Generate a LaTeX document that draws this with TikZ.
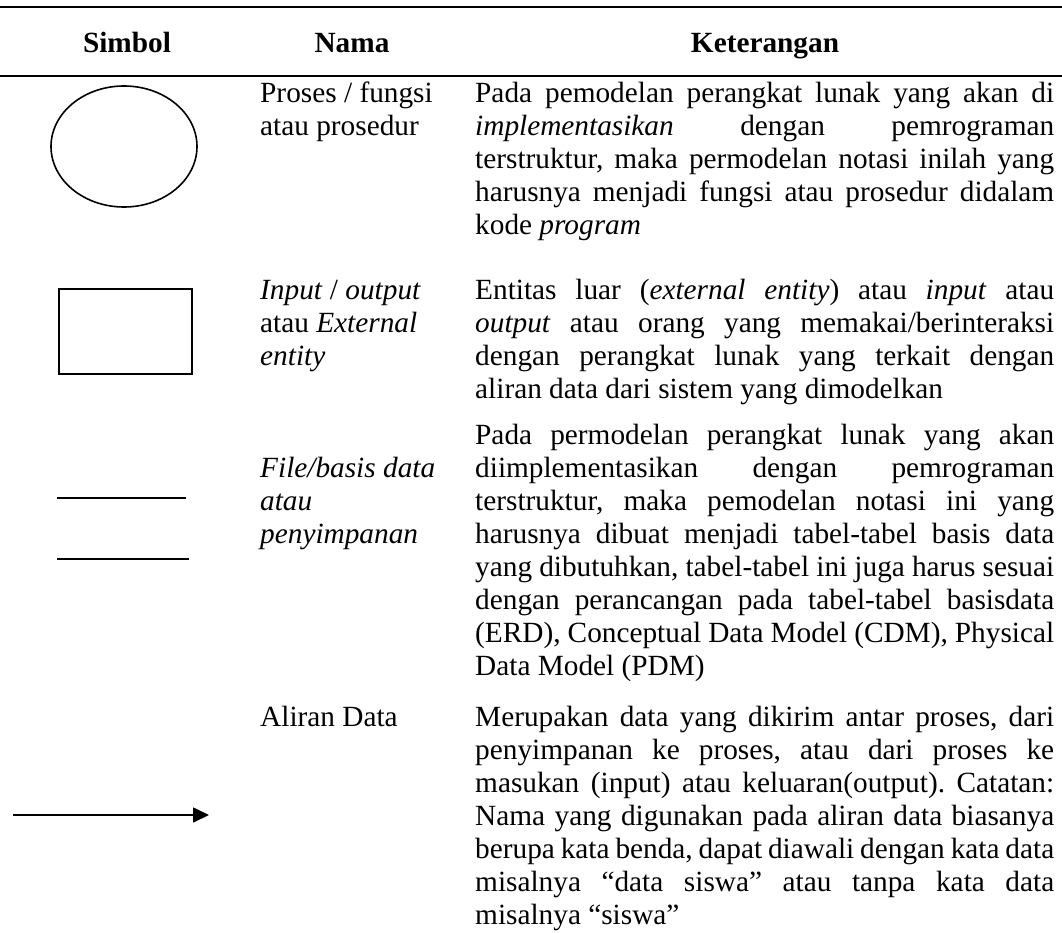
\documentclass[tikz,border=0pt]{standalone}
\usepackage{fontspec}
\setmainfont{Liberation Serif}
\usetikzlibrary{shapes.geometric,arrows.meta}
\frenchspacing

% width of the description column; justified lines are stretched to it
\newlength\desccol
\setlength\desccol{579pt}
\newcommand\jline[1]{\hbox to \desccol{#1}}
\newcommand\fline[1]{\hbox{#1}}
\newcommand\lines[1]{\vtop{\baselineskip=33pt\lineskiplimit=-100pt\lineskip=0pt #1}}

\begin{document}
\begin{tikzpicture}[x=1pt,y=-1pt,
  body/.style={anchor=base west, inner sep=0pt, font=\fontsize{29.3}{33}\selectfont},
  head/.style={anchor=base, inner sep=0pt, font=\fontsize{29.3}{33}\selectfont\bfseries},
  rulerow/.style={line width=2.2pt},
  symbol/.style={draw, line width=1.6pt, inner sep=0pt},
  flow/.style={line width=1.7pt, -{Triangle[length=16pt,width=15pt]}}]
\useasboundingbox (0,0) rectangle (1062,933);

% table rules
\coordinate (t1) at (0,7);   \coordinate (t2) at (1062,7);
\coordinate (m1) at (0,76);  \coordinate (m2) at (1062,76);
\draw[rulerow] (t1) -- (t2);
\draw[rulerow] (m1) -- (m2);

% header
\node[head] (hsym)  at (127,53) {Simbol};
\node[head] (hname) at (352,53) {Nama};
\node[head] (hdesc) at (765,53) {Keterangan};

% symbols
\node[symbol, ellipse, minimum width=146pt, minimum height=121pt] (proc) at (124,146.5) {};
\node[symbol, rectangle, minimum width=133pt, minimum height=85pt] (ent) at (125.5,331.5) {};
\coordinate (s1a) at (57,498);  \coordinate (s1b) at (186,498);
\coordinate (s2a) at (57,559);  \coordinate (s2b) at (189,559);
\draw[line width=1.4pt] (s1a) -- (s1b);
\draw[line width=1.4pt] (s2a) -- (s2b);
\coordinate (fa) at (13,815);  \coordinate (fb) at (209,815);
\draw[flow] (fa) -- (fb);

% names
\node[body] (n1) at (260,103) {\lines{\fline{Proses / fungsi}\fline{atau prosedur}}};
\node[body] (n2) at (260,299) {\lines{\fline{\textit{Input} / \textit{output}}\fline{atau \textit{External}}\fline{\textit{entity}}}};
\node[body] (n3) at (260,477) {\lines{\fline{\textit{File/basis data}}\fline{\textit{atau}}\fline{\textit{penyimpanan}}}};
\node[body] (n4) at (260,726) {\lines{\fline{Aliran Data}}};

% descriptions
\node[body] (d1) at (475,103) {\lines{%
\jline{Pada pemodelan perangkat lunak yang akan di}%
\jline{\textit{implementasikan} dengan pemrograman}%
\jline{terstruktur, maka permodelan notasi inilah yang}%
\jline{harusnya menjadi fungsi atau prosedur didalam}%
\fline{kode \textit{program}}}};

\node[body] (d2) at (475,299) {\lines{%
\jline{Entitas luar (\textit{external entity}) atau \textit{input} atau}%
\jline{\textit{output} atau orang yang memakai/berinteraksi}%
\jline{dengan perangkat lunak yang terkait dengan}%
\fline{aliran data dari sistem yang dimodelkan}}};

\node[body] (d3) at (475,444) {\lines{%
\jline{Pada permodelan perangkat lunak yang akan}%
\jline{diimplementasikan dengan pemrograman}%
\jline{terstruktur, maka pemodelan notasi ini yang}%
\jline{harusnya dibuat menjadi tabel-tabel basis data}%
\jline{yang dibutuhkan, tabel-tabel ini juga harus sesuai}%
\jline{dengan perancangan pada tabel-tabel basisdata}%
\jline{(ERD), Conceptual Data Model (CDM), Physical}%
\fline{Data Model (PDM)}}};

\node[body] (d4) at (475,726) {\lines{%
\jline{Merupakan data yang dikirim antar proses, dari}%
\jline{penyimpanan ke proses, atau dari proses ke}%
\jline{masukan (input) atau keluaran(output). Catatan:}%
\jline{Nama yang digunakan pada aliran data biasanya}%
\jline{berupa kata benda, dapat diawali dengan kata data}%
\jline{misalnya “data siswa” atau tanpa kata data}%
\fline{misalnya “siswa”}}};
\end{tikzpicture}
\end{document}
